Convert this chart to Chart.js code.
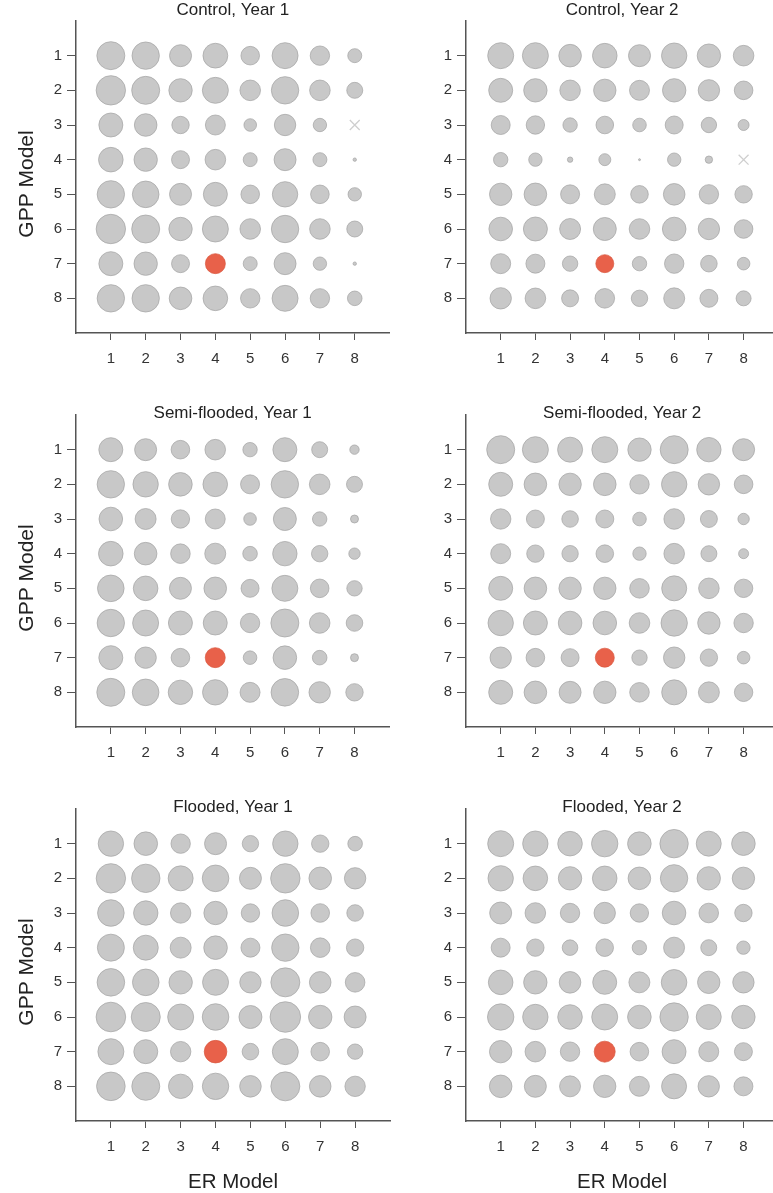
<!DOCTYPE html>
<html>
<head>
<meta charset="utf-8">
<script src="https://cdn.jsdelivr.net/npm/chart.js@4/dist/chart.umd.min.js"></script>
<style>
html, body { margin:0; padding:0; background:#ffffff; overflow:hidden; width:773px; height:1193px; }
canvas { position:absolute; display:block; }
</style>
</head>
<body>
<canvas id="c0"></canvas>
<canvas id="c1"></canvas>
<canvas id="c2"></canvas>
<canvas id="c3"></canvas>
<canvas id="c4"></canvas>
<canvas id="c5"></canvas>
<script>
// ---- Data ----
const erModels = [1, 2, 3, 4, 5, 6, 7, 8];   // x categories (ER Model)
const gppModels = [1, 2, 3, 4, 5, 6, 7, 8];  // y categories (GPP Model)
const panelTitles = ["Control, Year 1", "Control, Year 2",
                     "Semi-flooded, Year 1", "Semi-flooded, Year 2",
                     "Flooded, Year 1", "Flooded, Year 2"];
const xAxisTitle = "ER Model";
const yAxisTitle = "GPP Model";
const highlightGpp = 7;
const highlightEr = 4;

// bubble sizes, rows = GPP model 1..8, columns = ER model 1..8 (null = no fit, drawn as x)
const controlYear1 = [
  [14.0,13.7,11.0,12.4, 9.3,13.0, 9.7, 7.0],
  [14.7,14.0,11.7,13.0,10.3,13.7,10.3, 8.0],
  [12.0,11.3, 8.7,10.0, 6.3,10.7, 6.7, null],
  [12.3,11.7, 9.0,10.3, 7.0,11.0, 7.0, 1.7],
  [13.7,13.3,11.0,12.0, 9.3,12.7, 9.3, 6.7],
  [14.7,14.0,11.7,13.0,10.3,13.7,10.3, 8.0],
  [12.0,11.7, 9.0,10.0, 7.0,11.0, 6.7, 1.7],
  [13.7,13.7,11.3,12.3, 9.7,13.0, 9.7, 7.3]
];
const controlYear2 = [
  [13.0,13.0,11.3,12.3,11.0,12.7,11.7,10.3],
  [12.0,11.7,10.3,11.2,10.0,11.7,10.7, 9.3],
  [ 9.5, 9.2, 7.2, 8.8, 6.8, 9.0, 7.7, 5.5],
  [ 7.2, 6.7, 2.7, 6.0, 1.0, 6.7, 3.7, null],
  [11.2,11.3, 9.5,10.5, 8.8,10.8, 9.7, 8.7],
  [11.8,12.0,10.5,11.5,10.3,11.8,10.7, 9.3],
  [10.0, 9.5, 7.7, 9.0, 7.2, 9.7, 8.3, 6.3],
  [10.7,10.3, 8.5, 9.8, 8.2,10.5, 9.0, 7.5]
];
const semiYear1 = [
  [12.0,11.0, 9.3,10.3, 7.2,12.0, 8.0, 4.7],
  [13.7,12.7,11.8,12.3, 9.5,13.7,10.3, 8.0],
  [11.8,10.5, 9.2,10.0, 6.3,11.5, 7.2, 4.0],
  [12.3,11.3, 9.8,10.5, 7.3,12.2, 8.2, 5.7],
  [13.3,12.3,11.0,11.3, 9.0,13.0, 9.3, 7.7],
  [13.7,13.0,12.0,12.0, 9.7,14.0,10.3, 8.3],
  [12.0,10.7, 9.3,10.0, 6.8,11.8, 7.3, 4.0],
  [14.0,13.3,12.2,12.7,10.0,13.8,10.7, 8.7]
];
const semiYear2 = [
  [14.0,13.0,12.5,13.0,11.7,14.0,12.2,11.0],
  [12.0,11.3,11.2,11.3, 9.7,12.7,10.7, 9.3],
  [10.2, 9.0, 8.3, 9.0, 6.8,10.3, 8.5, 5.7],
  [10.0, 8.7, 8.2, 8.8, 6.7,10.3, 8.0, 5.0],
  [12.0,11.3,11.2,11.2, 9.8,12.5,10.3, 9.2],
  [12.7,12.0,11.8,11.8,10.3,13.2,11.2, 9.7],
  [10.7, 9.3, 9.0, 9.5, 7.7,10.7, 8.7, 6.3],
  [12.0,11.3,11.0,11.2, 9.8,12.5,10.5, 9.2]
];
const floodYear1 = [
  [12.7,11.8, 9.7,11.0, 8.2,12.7, 8.7, 7.3],
  [14.7,14.2,12.5,13.3,11.0,14.7,11.3,10.7],
  [13.3,12.2,10.2,11.7, 9.2,13.3, 9.3, 8.3],
  [13.5,12.5,10.5,11.8, 9.5,13.7, 9.8, 8.7],
  [13.8,13.3,11.7,13.0,10.7,14.5,10.8, 9.8],
  [14.8,14.5,13.0,13.3,11.5,15.3,11.7,11.0],
  [13.0,12.0,10.2,11.3, 8.3,13.0, 9.3, 7.7],
  [14.3,14.0,12.2,13.2,10.8,14.5,10.8,10.2]
];
const floodYear2 = [
  [13.0,12.7,12.3,13.2,11.8,14.2,12.5,11.8],
  [12.7,12.3,11.7,12.3,11.3,13.7,11.7,11.2],
  [11.0,10.3, 9.7,10.7, 9.2,11.8, 9.8, 8.7],
  [ 9.5, 8.7, 7.8, 8.8, 7.2,10.5, 8.0, 6.7],
  [12.3,11.7,10.8,12.0,10.5,12.8,11.2,10.7],
  [13.2,12.7,12.3,13.0,11.8,14.2,12.5,11.7],
  [11.2,10.3, 9.7,10.5, 9.3,12.0,10.0, 9.0],
  [11.3,11.0,10.5,11.2,10.0,12.5,10.7, 9.5]
];
const panelValues = [controlYear1, controlYear2, semiYear1, semiYear2, floodYear1, floodYear2];

// ---- Layout ----
const FONT = "'Liberation Sans', Arial, Helvetica, sans-serif";
const rowTops = [0, 394, 788];
const rowHeights = [394, 394, 407];
const colLefts = [0, 392];
const yAxisW = [76, 74];
const areaW = [313.7, 312.4];
const areaTop = 21;
const areaH = 312;

const titlePlugin = {
  id: 'panelTitle',
  afterDraw(chart, args, opts) {
    const ca = chart.chartArea;
    const ctx = chart.ctx;
    ctx.save();
    ctx.font = "17px " + FONT;
    ctx.fillStyle = '#222';
    ctx.textAlign = 'center';
    ctx.textBaseline = 'middle';
    ctx.fillText(opts.text, (ca.left + ca.right) / 2, ca.top + opts.dy);
    if (opts.yTitle) {
      ctx.font = "21px " + FONT;
      ctx.translate(27, (ca.top + ca.bottom) / 2 + 7);
      ctx.rotate(-Math.PI / 2);
      ctx.fillText(opts.yTitle, 0, 0);
    }
    ctx.restore();
  }
};

function makeConfig(i) {
  const row = Math.floor(i / 2), col = i % 2;
  const vals = panelValues[i];
  const gray = [], red = [], missing = [];
  gppModels.forEach((g, ri) => {
    erModels.forEach((e, ci) => {
      const v = vals[ri][ci];
      if (v === null) missing.push({x: e, y: g});
      else if (g === highlightGpp && e === highlightEr) red.push({x: e, y: g, r: v});
      else gray.push({x: e, y: g, r: v});
    });
  });
  const xAxisH = rowHeights[row] - areaTop - areaH;
  const tickFont = {family: FONT, size: 15};
  const sizeOf = c => (c.raw && c.raw.r) || 0;
  return {
    type: 'scatter',
    data: {
      datasets: [
        {data: gray, pointRadius: sizeOf, pointBackgroundColor: '#c8c8c8',
         pointBorderColor: '#a2a2a2', pointBorderWidth: 0.7},
        {data: red, pointRadius: sizeOf, pointBackgroundColor: '#e8614a',
         pointBorderColor: '#d9583f', pointBorderWidth: 0.7},
        {data: missing, pointStyle: 'crossRot', pointRadius: 7,
         pointBorderColor: '#cfcfcf', pointBorderWidth: 1.3, pointBackgroundColor: '#cfcfcf'}
      ]
    },
    options: {
      responsive: false,
      animation: false,
      events: [],
      layout: {padding: {top: areaTop, left: 0, right: 0, bottom: 0}},
      plugins: {legend: {display: false}, tooltip: {enabled: false},
                panelTitle: {text: panelTitles[i], dy: row === 0 ? -11 : -2,
                             yTitle: col === 0 ? yAxisTitle : null}},
      scales: {
        x: {
          type: 'linear', min: 0, max: 9, position: 'bottom',
          afterBuildTicks: s => { s.ticks = erModels.map(v => ({value: v})); },
          afterFit: s => { s.height = xAxisH; },
          ticks: {font: tickFont, color: '#333', padding: 10, autoSkip: false, maxRotation: 0},
          grid: {drawOnChartArea: false, drawTicks: true, tickLength: 7, color: '#555', lineWidth: 1},
          border: {display: true, color: '#555', width: 1.5},
          title: {display: row === 2, text: xAxisTitle, color: '#222',
                  font: {family: FONT, size: 20.5}, padding: {top: 0, bottom: 0}}
        },
        y: {
          type: 'linear', min: 0, max: 9, reverse: true, position: 'left',
          afterBuildTicks: s => { s.ticks = gppModels.map(v => ({value: v})); },
          afterFit: s => { s.width = yAxisW[col]; },
          ticks: {font: tickFont, color: '#333', padding: 5, autoSkip: false},
          grid: {drawOnChartArea: false, drawTicks: true, tickLength: 9, color: '#555', lineWidth: 1},
          border: {display: true, color: '#555', width: 1.5},
          title: {display: false}
        }
      }
    },
    plugins: [titlePlugin]
  };
}

function sizeCanvas(canvas, w, h, col, row) {
  canvas.width = w; canvas.height = h;
  canvas.style.left = colLefts[col] + 'px';
  canvas.style.top = rowTops[row] + 'px';
  canvas.style.width = w + 'px'; canvas.style.height = h + 'px';
}

function buildPanel(i) {
  const row = Math.floor(i / 2), col = i % 2;
  const canvas = document.getElementById('c' + i);
  const h = rowHeights[row];
  let w = Math.round(yAxisW[col] + areaW[col]);
  sizeCanvas(canvas, w, h, col, row);
  let chart = new Chart(canvas, makeConfig(i));
  // the library insets the plot area for large points; widen the canvas so the plot area keeps its size
  const actual = chart.chartArea.right - chart.chartArea.left;
  const diff = areaW[col] - actual;
  if (Math.abs(diff) > 0.5) {
    chart.destroy();
    w = Math.round(w + diff);
    sizeCanvas(canvas, w, h, col, row);
    chart = new Chart(canvas, makeConfig(i));
  }
}
for (let i = 0; i < 6; i++) buildPanel(i);
</script>
</body>
</html>
